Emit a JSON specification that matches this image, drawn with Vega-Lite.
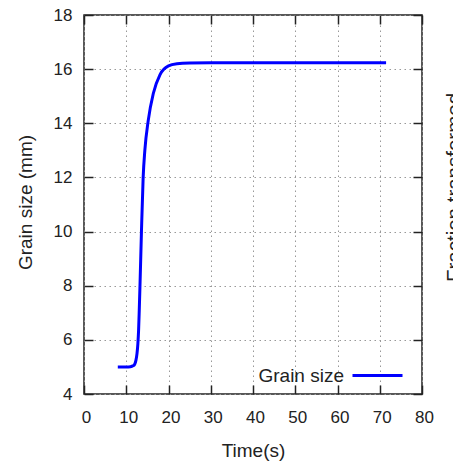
{
  "$schema": "https://vega.github.io/schema/vega-lite/v6.json",
  "autosize": "none",
  "width": 338,
  "height": 379,
  "padding": {"left": 84, "top": 15, "right": 31, "bottom": 68},
  "background": "white",
  "config": {
    "font": "Liberation Sans",
    "view": {"stroke": "#222", "strokeWidth": 1.5},
    "axis": {
      "labelFont": "Liberation Sans",
      "titleFont": "Liberation Sans",
      "labelFontSize": 17,
      "titleFontSize": 19,
      "labelColor": "#222",
      "titleColor": "#222",
      "titleFontWeight": "normal",
      "labelFlush": false,
      "domain": false,
      "tickColor": "#222",
      "tickWidth": 1.5,
      "tickSize": -9,
      "gridColor": "#999",
      "gridDash": [1.5, 3.5],
      "gridWidth": 1,
      "gridOpacity": 1
    }
  },
  "data": {
    "values": [
      {"t": 8, "g": 5.0},
      {"t": 10, "g": 5.0},
      {"t": 11, "g": 5.01},
      {"t": 11.6, "g": 5.04},
      {"t": 12.0, "g": 5.1},
      {"t": 12.3, "g": 5.25},
      {"t": 12.55, "g": 5.5},
      {"t": 12.75, "g": 5.85},
      {"t": 12.92, "g": 6.35},
      {"t": 13.08, "g": 7.1},
      {"t": 13.25, "g": 8.0},
      {"t": 13.6, "g": 10.0},
      {"t": 14.0, "g": 12.0},
      {"t": 14.4, "g": 13.0},
      {"t": 15.2, "g": 14.1},
      {"t": 16.4, "g": 15.1},
      {"t": 18, "g": 15.8},
      {"t": 20, "g": 16.12},
      {"t": 22, "g": 16.2},
      {"t": 25, "g": 16.23},
      {"t": 30, "g": 16.24},
      {"t": 71.5, "g": 16.24}
    ]
  },
  "layer": [
    {
      "mark": {"type": "line", "strokeWidth": 3, "interpolate": "monotone", "clip": true},
      "encoding": {
        "x": {
          "field": "t", "type": "quantitative",
          "scale": {"domain": [0, 80], "nice": false},
          "axis": {"values": [0, 10, 20, 30, 40, 50, 60, 70, 80], "title": "Time(s)", "labelPadding": 24, "labelOffset": 2, "titlePadding": 16, "grid": true}
        },
        "y": {
          "field": "g", "type": "quantitative",
          "scale": {"domain": [4, 18], "nice": false, "zero": false},
          "axis": {"values": [4, 6, 8, 10, 12, 14, 16, 18], "title": "Grain size (mm)", "labelPadding": 21, "titlePadding": 18, "titleY": 187, "grid": true}
        },
        "color": {
          "datum": "Grain size",
          "type": "nominal",
          "scale": {"range": ["#0000ff"]},
          "legend": {
            "title": null,
            "orient": "none",
            "legendX": 267,
            "legendY": 334,
            "symbolType": "stroke",
            "symbolSize": 2500,
            "symbolStrokeWidth": 3,
            "labelAlign": "right",
            "labelOffset": -60,
            "labelFont": "Liberation Sans",
            "labelFontSize": 19,
            "labelColor": "#222"
          }
        }
      }
    },
    {
      "mark": {"type": "line", "opacity": 0},
      "encoding": {
        "x": {
          "field": "t", "type": "quantitative",
          "scale": {"domain": [0, 80], "nice": false},
          "axis": {"orient": "top", "values": [0, 10, 20, 30, 40, 50, 60, 70, 80], "labels": false, "title": null, "grid": false}
        },
        "y": {
          "field": "g", "type": "quantitative",
          "scale": {"domain": [4, 18], "nice": false, "zero": false},
          "axis": {"orient": "right", "values": [4, 6, 8, 10, 12, 14, 16, 18], "labels": false, "grid": false, "title": "Fraction transformed", "titleFontSize": 20.5, "titleAngle": 270, "titleBaseline": "top", "titleX": 22, "titleY": 172, "titleAlign": "center"}
        }
      }
    }
  ],
  "resolve": {"axis": {"x": "independent", "y": "independent"}}
}
